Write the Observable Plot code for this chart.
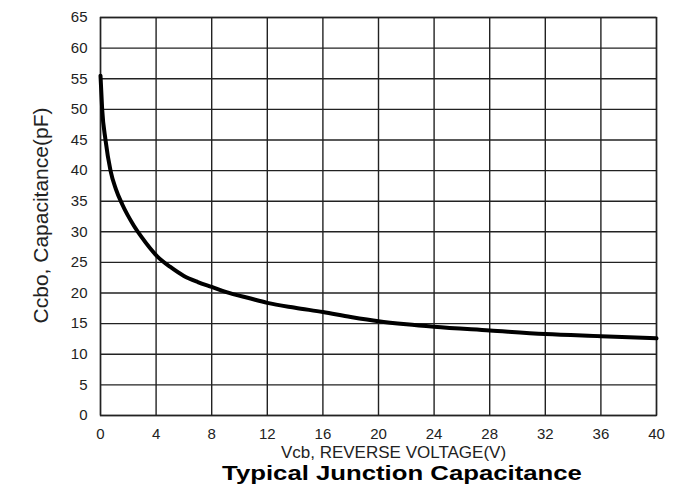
<!DOCTYPE html>
<html>
<head>
<meta charset="utf-8">
<script src="https://cdn.jsdelivr.net/npm/d3@7"></script>
<script src="https://cdn.jsdelivr.net/npm/@observablehq/plot@0.6"></script>
<style>
body { margin: 0; background: #fff; font-family: "Liberation Sans", Arial, sans-serif; position: relative; width: 679px; height: 491px; overflow: hidden; }
#title { position: absolute; top: 466px; left: 402px; white-space: nowrap; font-weight: bold; font-size: 21px; line-height: 14px; color: #000; transform: translateX(-50%) scaleX(1.225); }
</style>
</head>
<body>
<div id="chart"></div>
<div id="title">Typical Junction Capacitance</div>
<script>
const voltage = [0, 0.12, 0.36, 0.72, 1.1, 1.56, 2.4, 3, 4.08, 5, 6, 7, 8, 9, 10.8, 12, 14, 16, 18, 20, 22, 24, 28, 32, 36, 40];
const capacitance = [55.5, 50, 45, 40, 37, 34.5, 31, 29, 26, 24.3, 22.8, 21.8, 21, 20.2, 19.1, 18.4, 17.6, 16.9, 16.1, 15.4, 14.9, 14.5, 13.9, 13.3, 12.95, 12.6];
const xTicks = [0, 4, 8, 12, 16, 20, 24, 28, 32, 36, 40];
const yTicks = [0, 5, 10, 15, 20, 25, 30, 35, 40, 45, 50, 55, 60, 65];
const xLabel = "Vcb, REVERSE VOLTAGE(V)";
const yLabel = "Ccbo, Capacitance(pF)";

const data = voltage.map((v, i) => ({v, c: capacitance[i]}));

const chart = Plot.plot({
  width: 679,
  height: 464,
  marginLeft: 100,
  marginRight: 23,
  marginTop: 17,
  marginBottom: 49,
  style: {fontFamily: "'Liberation Sans', Arial, sans-serif", fontSize: "15px", color: "#222"},
  x: {domain: [0, 40]},
  y: {domain: [0, 65]},
  marks: [
    Plot.gridX(xTicks, {stroke: "#222", strokeOpacity: 1, strokeWidth: 1.4}),
    Plot.gridY(yTicks, {stroke: "#222", strokeOpacity: 1, strokeWidth: 1.4}),
    Plot.frame({stroke: "#222", strokeWidth: 1.4}),
    Plot.axisX(xTicks, {tickSize: 0, tickPadding: 13, fontSize: 15, label: null}),
    Plot.axisY(yTicks, {tickSize: 0, tickPadding: 13, fontSize: 15, label: null}),
    Plot.text([xLabel], {text: d => d, frameAnchor: "bottom", textAnchor: "middle", lineAnchor: "middle", dx: 15, dy: 37, fontSize: 17, fill: "#222", ariaLabel: "x-label"}),
    Plot.text([yLabel], {text: d => d, frameAnchor: "left", textAnchor: "middle", lineAnchor: "middle", rotate: -90, dx: -59, dy: -1, fontSize: 21, fill: "#222"}),
    Plot.line(data, {x: "v", y: "c", stroke: "#000", strokeWidth: 4, curve: "monotone-x"})
  ]
});
document.getElementById("chart").appendChild(chart);
// stretch the x-axis title to the reference width
const xl = chart.querySelector("g[aria-label='x-label'] text");
if (xl) { xl.setAttribute("textLength", "269"); xl.setAttribute("lengthAdjust", "spacingAndGlyphs"); }
</script>
</body>
</html>
